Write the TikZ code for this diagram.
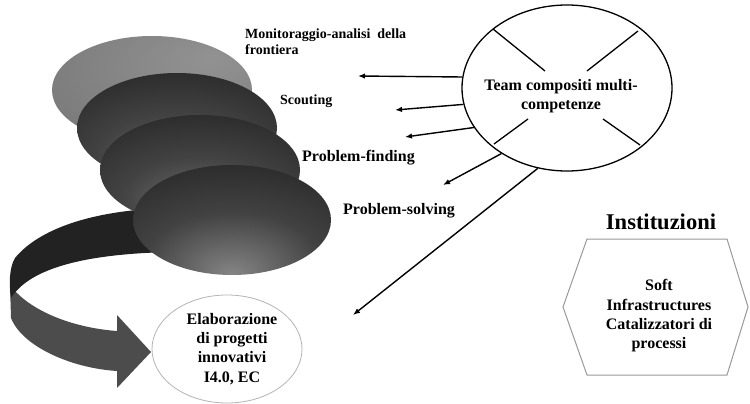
\documentclass[tikz,border=0pt]{standalone}
\usepackage{fontspec}
\setmainfont{Liberation Serif}
\usetikzlibrary{arrows.meta,shapes.geometric}
\definecolor{dkA}{HTML}{707070}
\definecolor{dkB}{HTML}{424242}
\definecolor{dkC}{HTML}{252525}
\definecolor{dkD}{HTML}{111111}
\definecolor{ltA}{HTML}{929292}
\definecolor{ltB}{HTML}{7A7A7A}
\definecolor{ltC}{HTML}{4C4C4C}
\definecolor{bandUp}{HTML}{222222}
\definecolor{bandLo}{HTML}{4C4C4C}
\definecolor{thinGray}{HTML}{B4B4B4}
\pgfdeclareradialshading{darkell}{\pgfpoint{0bp}{-18bp}}{color(0bp)=(dkA); color(20bp)=(dkB); color(42bp)=(dkC); color(85bp)=(dkD)}
\pgfdeclareradialshading{lowell}{\pgfpoint{0bp}{-25bp}}{color(0bp)=(dkA!85!white); color(22bp)=(dkB); color(45bp)=(dkC); color(85bp)=(dkD)}
\pgfdeclareradialshading{lightell}{\pgfpoint{15bp}{15bp}}{color(0bp)=(ltA); color(40bp)=(ltB); color(85bp)=(ltC)}
\begin{document}
\begin{tikzpicture}[x=1pt,y=-1pt,
  lbl/.style={font=\fontsize{16}{19.3}\selectfont\bfseries, inner sep=0pt},
  lbls/.style={font=\fontsize{14}{16}\selectfont\bfseries, inner sep=0pt},
  arr/.style={line width=1.4pt, -{Latex[length=7pt,width=5.5pt]}},
  xline/.style={line width=1.3pt}]
\useasboundingbox (0,0) rectangle (750,404);
\fill[white] (0,0) rectangle (750,404);

% ribbon arrow (behind the discs)
\fill[bandLo] (10,285) -- (11,318) .. controls (22,346) and (70,368) .. (117,371)
  -- (117,388) -- (151,352) -- (117,315) -- (117,331)
  .. controls (75,328) and (30,312) .. (10,285) -- cycle;
\fill[bandUp] (170,208) .. controls (90,210) and (38,230) .. (15,258)
  .. controls (9,268) and (9,285) .. (11,298)
  .. controls (30,268) and (85,254) .. (170,252) -- cycle;

% cascade of discs
\shade[shading=lightell] (152,90) ellipse [x radius=100pt, y radius=54pt];
\shade[shading=darkell] (177,128) ellipse [x radius=100pt, y radius=55pt];
\shade[shading=darkell] (200,170) ellipse [x radius=100pt, y radius=55pt];
\shade[shading=lowell] (232,220) ellipse [x radius=99pt, y radius=55pt];

% labels of the discs
\node[lbls, anchor=west, align=left] (mon) at (245,41.5) {Monitoraggio-analisi\ \ della\\frontiera};
\node[lbls, anchor=base west] (sco) at (280,104) {Scouting};
\node[lbl, anchor=base west] (pf) at (302,161) {Problem-finding};
\node[lbl, anchor=base west] (ps) at (343,214) {Problem-solving};

% team ellipse
\node[draw, ellipse, line width=1.3pt, minimum width=210pt, minimum height=166pt, inner sep=0pt] (team) at (567,88) {};
\draw[xline] (493,29) -- (545,71);
\draw[xline] (638,31) -- (587,71);
\draw[xline] (494,144) -- (528,119);
\draw[xline] (603,119) -- (640,145);
\node[lbl, align=center] (teamtxt) at (561,96.5) {Team compositi multi-\\competenze};

% arrows out of the team
\coordinate (a1) at (358,76);
\coordinate (a2) at (395,110);
\coordinate (a3) at (405,137);
\coordinate (a4) at (443,185);
\coordinate (a5) at (353,315);
\draw[arr] (team.174.4) -- (a1);
\draw[arr] (team.189.2) -- (a2);
\draw[arr] (team.203.3) -- (a3);
\draw[arr] (team.225.3) -- (a4);
\draw[arr] (team.250) -- (a5);

% elaboration ellipse
\node[draw=thinGray, ellipse, line width=0.8pt, minimum width=150pt, minimum height=108pt, inner sep=0pt] (elab) at (227,349) {};
\node[lbl, align=center] (elabtxt) at (232,349) {Elaborazione\\di progetti\\innovativi\\I4.0, EC};

% institutions
\node[font=\fontsize{22.5}{26}\selectfont\bfseries, inner sep=0pt, anchor=base] (inst) at (661,229) {Instituzioni};
\draw[thinGray!85!black, line width=1pt] (587,239) -- (727,239) -- (748,307) -- (727,375) -- (587,375) -- (563,307) -- cycle;
\node[lbl, align=center] (soft) at (659,316) {Soft\\Infrastructures\\Catalizzatori di\\processi};
\end{tikzpicture}
\end{document}
